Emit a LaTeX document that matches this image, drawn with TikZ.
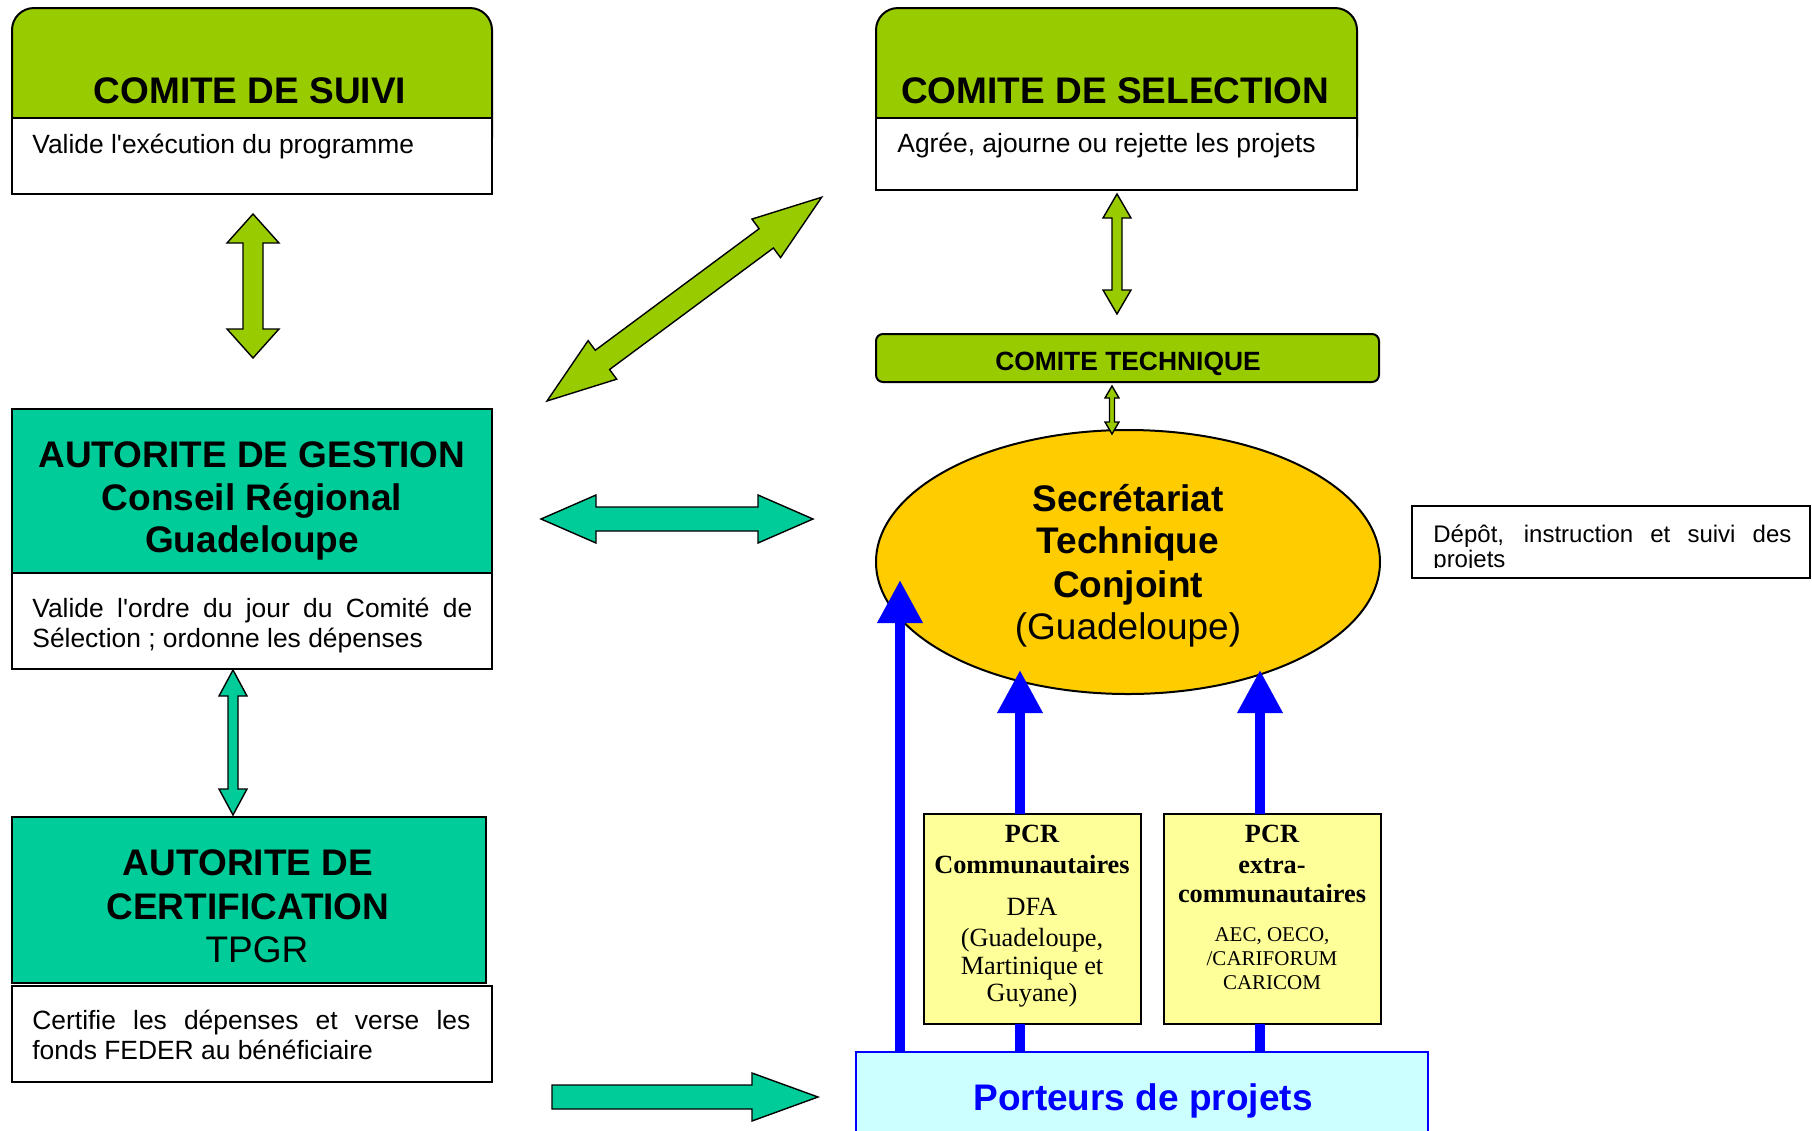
\documentclass[tikz,border=0pt]{standalone}
\usepackage{fontspec}
\setmainfont{Liberation Sans}
\newfontfamily\serifpcr{Liberation Serif}
\usetikzlibrary{shapes.geometric,arrows.meta}
\definecolor{grn}{HTML}{99CC00}
\definecolor{tea}{HTML}{00CC99}
\definecolor{yel}{HTML}{FFCC00}
\definecolor{pcry}{HTML}{FFFF99}
\definecolor{cyanl}{HTML}{CCFFFF}
\definecolor{blu}{HTML}{0000FF}
\newcommand{\DblArr}[5]{\draw[#1] (0,0) -- (#3,#4) -- (#3,#5) -- ({#2-#3},#5) -- ({#2-#3},#4) -- (#2,0) -- ({#2-#3},-#4) -- ({#2-#3},-#5) -- (#3,-#5) -- (#3,-#4) -- cycle;}
\tikzset{
 box/.style={draw, line width=1pt, inner sep=0pt, outer sep=0pt, rectangle},
 ttl/.style={anchor=base, inner sep=0pt, font=\fontsize{18.5pt}{21.5pt}\selectfont\bfseries},
 ttlr/.style={anchor=base, inner sep=0pt, font=\fontsize{18.5pt}{21.5pt}\selectfont},
 body/.style={anchor=base west, inner sep=0pt, font=\fontsize{13.2pt}{15pt}\selectfont},
 pcrb/.style={anchor=base, inner sep=0pt, font=\serifpcr\bfseries\fontsize{13.15pt}{15pt}\selectfont},
 pcrr/.style={anchor=base, inner sep=0pt, font=\serifpcr\fontsize{13.15pt}{15pt}\selectfont},
 pcrs/.style={anchor=base, inner sep=0pt, font=\serifpcr\fontsize{10.5pt}{12pt}\selectfont},
 blk/.style={draw=black, line width=0.7pt, line join=miter},
 bluearr/.style={draw=blu, line width=5pt, -{Triangle[length=21.5pt,width=21.5pt]}},
 blueline/.style={draw=blu, line width=5pt},
}
\begin{document}
\begin{tikzpicture}[x=0.5pt,y=-0.5pt]
\useasboundingbox (0,0) rectangle (1812,1131);
\clip (0,0) rectangle (1812,1131);
% Comite de suivi
\node[box, fill=grn, rounded corners=11pt, minimum width=240pt, minimum height=76pt] (suiviG) at (252,84) {};
\node[box, fill=white, minimum width=240pt, minimum height=38pt] (suiviW) at (252,156) {};
\node[ttl] (suiviT) at (250,103) {COMITE DE SUIVI};
\node[body] (suiviX) at (32,153) {Valide l\textquotesingle exécution du programme};
% Comite de selection
\node[box, fill=grn, rounded corners=11pt, minimum width=240.5pt, minimum height=76pt] (selG) at (1116.5,84) {};
\node[box, fill=white, minimum width=240.5pt, minimum height=36pt] (selW) at (1116.5,154) {};
\node[ttl] (selT) at (1115,103) {COMITE DE SELECTION};
\node[body] (selX) at (897,152) {Agrée, ajourne ou rejette les projets};
% Comite technique
\node[box, fill=grn, rounded corners=3.5pt, minimum width=251.5pt, minimum height=24pt] (tech) at (1127.5,358) {};
\node[anchor=base, inner sep=0pt, font=\fontsize{13.2pt}{15pt}\selectfont\bfseries] (techT) at (1128,370) {COMITE TECHNIQUE};
% Secretariat
\node[ellipse, draw, line width=1pt, fill=yel, inner sep=0pt, minimum width=252pt, minimum height=132pt] (stc) at (1128,562) {};
\node[ttl] (stc1) at (1128,511) {Secrétariat};
\node[ttl] (stc2) at (1128,553) {Technique};
\node[ttl] (stc3) at (1128,597) {Conjoint};
\node[ttlr] (stc4) at (1128,639) {(Guadeloupe)};
% Depot
\node[box, fill=white, minimum width=199pt, minimum height=36pt] (dep) at (1611,542) {};
\begin{scope}
\clip (1414,507) rectangle (1808,567.5);
\node[anchor=base west, inner sep=0pt, font=\fontsize{12pt}{13pt}\selectfont] (dep1) at (1433,542) {\makebox[179pt][s]{Dépôt, instruction et suivi des}};
\node[anchor=base west, inner sep=0pt, font=\fontsize{12pt}{13pt}\selectfont] (dep2) at (1433,567) {projets};
\end{scope}
% Autorite de gestion
\node[box, fill=tea, minimum width=240pt, minimum height=82pt] (ag) at (252,491) {};
\node[box, fill=white, minimum width=240pt, minimum height=48pt] (agW) at (252,621) {};
\node[ttl] (ag1) at (252,467) {AUTORITE DE GESTION};
\node[ttl] (ag2) at (252,510) {Conseil Régional};
\node[ttl] (ag3) at (252,552) {Guadeloupe};
\node[body] (agx1) at (32,617) {\makebox[220pt][s]{Valide l\textquotesingle ordre du jour du Comité de}};
\node[body] (agx2) at (32,647) {Sélection ; ordonne les dépenses};
% Autorite de certification
\node[box, fill=tea, minimum width=237pt, minimum height=83pt] (ac) at (249,900) {};
\node[box, fill=white, minimum width=240pt, minimum height=48pt] (acW) at (252,1034) {};
\node[ttl] (ac1) at (248,875) {AUTORITE DE};
\node[ttl] (ac2) at (248,919) {CERTIFICATION};
\node[ttlr] (ac3) at (257,962) {TPGR};
\node[body] (acx1) at (32,1029) {\makebox[219pt][s]{Certifie les dépenses et verse les}};
\node[body] (acx2) at (32,1059) {fonds FEDER au bénéficiaire};
% PCR boxes
\node[box, fill=pcry, minimum width=108.5pt, minimum height=105pt] (pcrA) at (1032.5,919) {};
\node[pcrb] (pa1) at (1032,842) {PCR};
\node[pcrb] (pa2) at (1032,873) {Communautaires};
\node[pcrr] (pa3) at (1032,915) {DFA};
\node[pcrr] (pa4) at (1032,946) {(Guadeloupe,};
\node[pcrr] (pa5) at (1032,974) {Martinique et};
\node[pcrr] (pa6) at (1032,1001) {Guyane)};
\node[box, fill=pcry, minimum width=108.5pt, minimum height=105pt] (pcrB) at (1272.5,919) {};
\node[pcrb] (pb1) at (1272,842) {PCR};
\node[pcrb] (pb2) at (1272,873) {extra-};
\node[pcrb] (pb3) at (1272,902) {communautaires};
\node[pcrs] (pb4) at (1272,941) {AEC, OECO,};
\node[pcrs] (pb5) at (1272,965) {/CARIFORUM};
\node[pcrs] (pb6) at (1272,989) {CARICOM};
% Porteurs
\node[box, draw=blu, fill=cyanl, minimum width=286pt, minimum height=54pt] (port) at (1142,1106) {};
\node[ttl, text=blu] (portT) at (1143,1110) {Porteurs de projets};
% blue arrows
\coordinate (tipL) at (900,580);
\coordinate (tipM) at (1020,670);
\coordinate (tipR) at (1260,670);
\draw[bluearr] (port.north -| tipL) -- (tipL);
\draw[blueline] (port.north -| tipM) -- (pcrA.south -| tipM);
\draw[bluearr] (pcrA.north -| tipM) -- (tipM);
\draw[blueline] (port.north -| tipR) -- (pcrB.south -| tipR);
\draw[bluearr] (pcrB.north -| tipR) -- (tipR);
% block arrows
\coordinate (aSuivi) at (253,214);
\coordinate (aDiag) at (547,401);
\coordinate (aHor) at (541,519);
\coordinate (aVert) at (233,670);
\coordinate (aSel) at (1117,194);
\coordinate (aTech) at (1112,386);
\coordinate (aBot) at (552,1097);
\DblArr{blk, fill=grn, shift={(aSuivi)}, rotate=-90}{144}{29}{26}{10}
\DblArr{blk, fill=grn, shift={(aDiag)}, rotate=36.57}{342}{69}{24}{12}
\DblArr{blk, fill=tea, shift={(aHor)}}{272}{55}{24}{12}
\DblArr{blk, fill=tea, shift={(aVert)}, rotate=-90}{145}{26}{14}{5}
\DblArr{blk, fill=grn, shift={(aSel)}, rotate=-90}{120}{24}{14}{5}
\DblArr{blk, fill=grn, shift={(aTech)}, rotate=-90}{48}{12}{7}{2.5}
\draw[blk, fill=tea, shift={(aBot)}] (0,-12) -- (200,-12) -- (200,-24) -- (266,0) -- (200,24) -- (200,12) -- (0,12) -- cycle;
\end{tikzpicture}
\end{document}
